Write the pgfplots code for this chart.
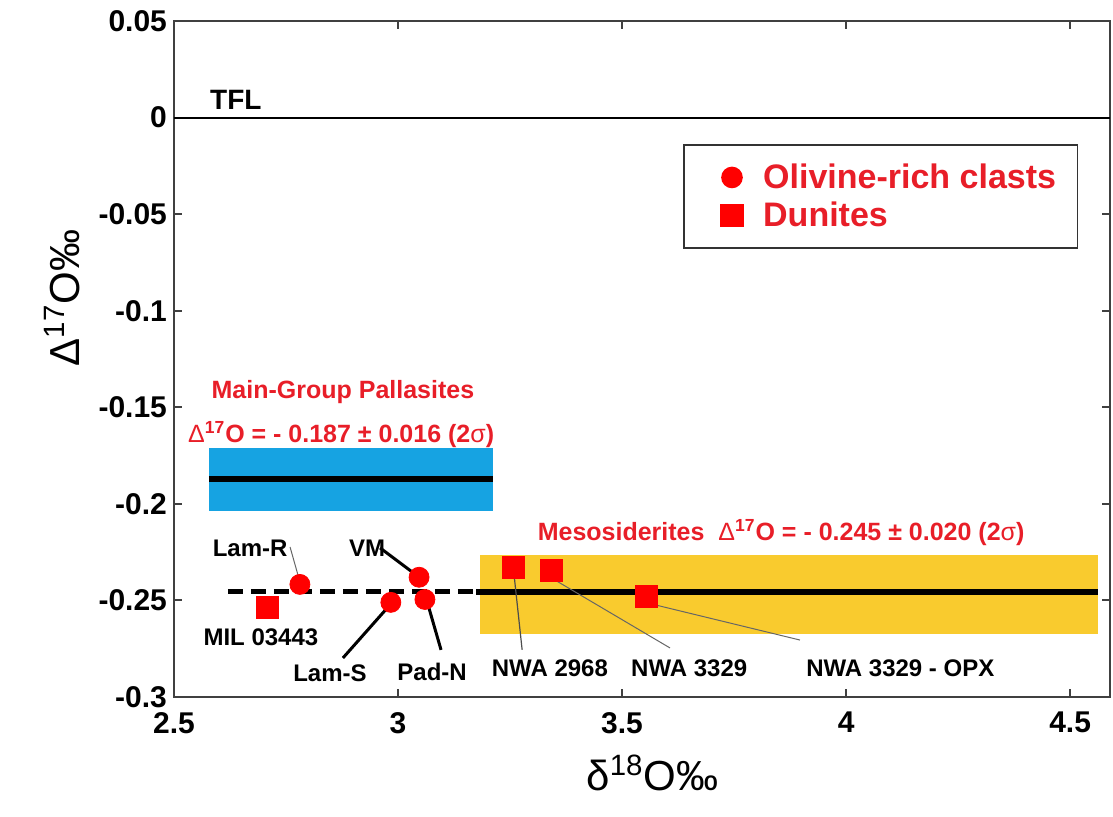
\documentclass[border=0pt]{standalone}
\usepackage{fontspec}
\setmainfont{Liberation Sans}
\usepackage{pgfplots}
\pgfplotsset{compat=1.18}
\definecolor{blueband}{RGB}{22,163,226}
\definecolor{yellowband}{RGB}{249,203,46}
\definecolor{redtext}{RGB}{232,30,40}
\definecolor{redmark}{RGB}{255,0,0}
\begin{document}
\begin{tikzpicture}
\begin{axis}[
  width=468pt, height=338pt, scale only axis,
  xmin=2.5, xmax=4.589, ymin=-0.3, ymax=0.05,
  xtick={2.5,3,3.5,4,4.5}, xticklabels={2.5,3,3.5,4,4.5},
  ytick={0.05,0,-0.05,-0.1,-0.15,-0.2,-0.25,-0.3},
  yticklabels={0.05,0,-0.05,-0.1,-0.15,-0.2,-0.25,-0.3},
  tick align=inside, tick pos=both, major tick length=4pt,
  axis line style={line width=1.4pt, black!75},
  tick style={line width=1pt, black!75},
  ticklabel style={font=\fontsize{15}{15}\selectfont\bfseries},
  xticklabel style={yshift=-4pt},
  xlabel={δ\textsuperscript{18}O‰},
  ylabel={Δ\textsuperscript{17}O‰},
  label style={font=\fontsize{21}{21}\selectfont},
  xlabel style={at={(axis description cs:0.511,-0.112)}, anchor=center},
  ylabel style={at={(axis description cs:-0.12,0.59)}, anchor=center, rotate=0},
  legend style={at={(axis description cs:0.544,0.818)}, anchor=north west,
    draw=black!80, line width=0.8pt, font=\fontsize{17}{17}\selectfont\bfseries,
    text=redtext, inner xsep=9pt, inner ysep=7.8pt, row sep=2pt,
    nodes={inner sep=1.6pt}, cells={anchor=west}},
  legend image code/.code={\path[draw=none, fill=none] (-8pt,0) -- (21pt,0); \draw[#1, draw=none] plot coordinates {(7pt,0)};},
]
\coordinate (SW) at (rel axis cs:0,0);
\coordinate (NE) at (rel axis cs:1,1);
% bands
\addplot[fill=blueband, draw=none, forget plot] coordinates {(2.578,-0.171) (3.212,-0.171) (3.212,-0.2036) (2.578,-0.2036)} -- cycle;
\addplot[fill=yellowband, draw=none, forget plot] coordinates {(3.183,-0.2265) (4.5625,-0.2265) (4.5625,-0.2675) (3.183,-0.2675)} -- cycle;
% lines
\addplot[black, line width=1pt, forget plot] coordinates {(2.5,0) (4.589,0)};
\addplot[black, line width=3pt, forget plot] coordinates {(2.578,-0.187) (3.212,-0.187)};
\addplot[black, line width=3pt, forget plot] coordinates {(3.175,-0.2456) (4.5625,-0.2456)};
\addplot[black, line width=2.5pt, dash pattern=on 7.5pt off 4pt, forget plot] coordinates {(2.62,-0.2456) (3.167,-0.2456)};
% leader lines
\draw[black!60, line width=0.5pt] (axis cs:2.759,-0.2223) -- (axis cs:2.781,-0.2404);
\draw[black, line width=1.5pt] (axis cs:2.960,-0.2228) -- (axis cs:3.049,-0.2383);
\draw[black, line width=1.5pt] (axis cs:2.877,-0.2798) -- (axis cs:2.982,-0.2523);
\draw[black, line width=1.5pt] (axis cs:3.067,-0.2523) -- (axis cs:3.096,-0.2756);
\draw[black!70, line width=0.6pt] (axis cs:3.259,-0.2368) -- (axis cs:3.277,-0.2756);
\draw[black!60, line width=0.5pt] (axis cs:3.350,-0.2394) -- (axis cs:3.607,-0.2746);
\draw[black!60, line width=0.5pt] (axis cs:3.574,-0.2523) -- (axis cs:3.897,-0.2705);
% data
\addplot[only marks, mark=*, mark size=5pt, redmark, mark options={fill=redmark, draw=redmark}] coordinates {
  (2.781,-0.2417) (3.047,-0.2380) (2.984,-0.2510) (3.060,-0.2495)};
\addlegendentry{Olivine-rich clasts}
\addplot[only marks, mark=square*, mark size=5.5pt, redmark, mark options={fill=redmark, draw=redmark}] coordinates {
  (2.708,-0.2536) (3.257,-0.2330) (3.342,-0.2345) (3.554,-0.2480)};
\addlegendentry{Dunites}
% texts
\node[font=\fontsize{14}{14}\selectfont\bfseries] at (axis cs:2.638,0.0093) {TFL};
\node[font=\fontsize{12.5}{12.5}\selectfont\bfseries, text=redtext] at (axis cs:2.877,-0.142) {Main-Group Pallasites};
\node[font=\fontsize{12.5}{12.5}\selectfont\bfseries, text=redtext] at (axis cs:2.873,-0.164) {{\mdseries Δ}\textsuperscript{17}O = - 0.187 ± 0.016 (2{\mdseries σ})};
\node[font=\fontsize{12.5}{12.5}\selectfont\bfseries, text=redtext] at (axis cs:3.855,-0.215) {Mesosiderites\ \ {\mdseries Δ}\textsuperscript{17}O = - 0.245 ± 0.020 (2{\mdseries σ})};
\begin{scope}[every node/.style={font=\fontsize{12}{12}\selectfont\bfseries}]
\node at (axis cs:2.670,-0.2228) {Lam-R};
\node at (axis cs:2.931,-0.2228) {VM};
\node at (axis cs:2.694,-0.2690) {MIL 03443};
\node at (axis cs:2.848,-0.2876) {Lam-S};
\node at (axis cs:3.076,-0.2870) {Pad-N};
\node at (axis cs:3.339,-0.2850) {NWA 2968};
\node at (axis cs:3.650,-0.2850) {NWA 3329};
\node at (axis cs:4.121,-0.2850) {NWA 3329 - OPX};
\end{scope}
\end{axis}
\pgfresetboundingbox
\path ([shift={(-87pt,-59.5pt)}]SW) rectangle ([shift={(1.5pt,10.5pt)}]NE);
\end{tikzpicture}
\end{document}
